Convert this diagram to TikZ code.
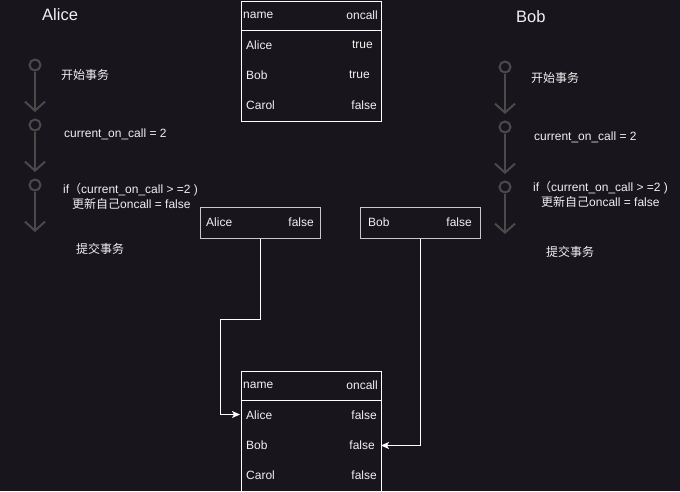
\documentclass[tikz,border=0pt]{standalone}
\usepackage{fontspec}
\setmainfont{Liberation Sans}
\newfontfamily\cjk{Noto Sans CJK SC}
\usetikzlibrary{arrows.meta}
\definecolor{bg}{HTML}{18151D}
\definecolor{tl}{HTML}{4A4A4A}
\definecolor{fg}{HTML}{F0F0F0}
\definecolor{boxline}{HTML}{C8C8C8}
\tikzset{
  txt/.style={text=fg, font=\fontsize{12}{14}\selectfont, inner sep=0pt},
  title/.style={text=fg, font=\fontsize{16.5}{19}\selectfont, inner sep=0pt},
  circ/.style={circle, draw=tl, line width=2pt, minimum size=11pt, inner sep=0pt},
  tlarrow/.style={draw=tl, line width=2pt, -{Straight Barb[length=9pt,width=20pt,line width=2pt]}},
  tablebox/.style={draw=white, line width=1pt, minimum width=140pt, minimum height=120pt, inner sep=0pt, anchor=north west},
  smallbox/.style={draw=boxline, line width=1.2pt, minimum width=120pt, minimum height=31pt, inner sep=0pt, anchor=north west},
  conn/.style={draw=white, line width=1pt, -{Stealth[length=8pt,width=7pt,inset=2pt]}}
}
\begin{document}
\begin{tikzpicture}[x=1pt,y=-1pt]
\fill[bg] (0,0) rectangle (680,491);
\useasboundingbox (0,0) rectangle (680,491);

% titles
\node[title, anchor=west] (alice) at (42,15) {Alice};
\node[title, anchor=west] (bob) at (516,17) {Bob};

% Alice timeline
\node[circ] (a1) at (35,65) {};
\node[circ] (a2) at (35,125) {};
\node[circ] (a3) at (35,185) {};
\coordinate (a1e) at (35,112);
\coordinate (a2e) at (35,172);
\coordinate (a3e) at (35,232);
\draw[tlarrow] (a1) -- (a1e);
\draw[tlarrow] (a2) -- (a2e);
\draw[tlarrow] (a3) -- (a3e);
\node[txt, anchor=west] (at1) at (61,75) {\cjk 开始事务};
\node[txt, anchor=west] (at2) at (64,134) {current\_on\_call = 2};
\node[txt, anchor=west] (at3) at (63,190) {if{\cjk （}current\_on\_call > =2 )};
\node[txt, anchor=west] (at4) at (72,204) {{\cjk 更新自己}oncall = false};
\node[txt, anchor=west] (at5) at (76,249) {\cjk 提交事务};

% Bob timeline
\node[circ] (b1) at (505,67) {};
\node[circ] (b2) at (505,127) {};
\node[circ] (b3) at (505,187) {};
\coordinate (b1e) at (505,114);
\coordinate (b2e) at (505,174);
\coordinate (b3e) at (505,234);
\draw[tlarrow] (b1) -- (b1e);
\draw[tlarrow] (b2) -- (b2e);
\draw[tlarrow] (b3) -- (b3e);
\node[txt, anchor=west] (bt1) at (531,78) {\cjk 开始事务};
\node[txt, anchor=west] (bt2) at (534,137) {current\_on\_call = 2};
\node[txt, anchor=west] (bt3) at (533,188) {if{\cjk （}current\_on\_call > =2 )};
\node[txt, anchor=west] (bt4) at (541,202) {{\cjk 更新自己}oncall = false};
\node[txt, anchor=west] (bt5) at (546,252) {\cjk 提交事务};

% top table
\node[tablebox] (t1) at (240.5,0.5) {};
\draw[white, line width=1pt] (240.5,30) -- (380.5,30);
\node[txt, anchor=west] (t1h1) at (243,15) {name};
\node[txt, anchor=east] (t1h2) at (378,15) {oncall};
\node[txt, anchor=west] (t1r1a) at (246,45) {Alice};
\node[txt, anchor=east] (t1r1b) at (373,45) {true};
\node[txt, anchor=west] (t1r2a) at (246,75) {Bob};
\node[txt, anchor=east] (t1r2b) at (370,75) {true};
\node[txt, anchor=west] (t1r3a) at (246,105) {Carol};
\node[txt, anchor=east] (t1r3b) at (377,105) {false};

% update boxes
\node[smallbox] (af) at (200,207) {};
\node[txt, anchor=west] (afa) at (206,222.5) {Alice};
\node[txt, anchor=east] (afb) at (314,222.5) {false};
\node[smallbox] (bf) at (360,207) {};
\node[txt, anchor=west] (bfa) at (368,222.5) {Bob};
\node[txt, anchor=east] (bfb) at (472,222.5) {false};

% bottom table
\node[tablebox] (t2) at (240.5,370.5) {};
\draw[white, line width=1pt] (240.5,400) -- (380.5,400);
\node[txt, anchor=west] (t2h1) at (243,385) {name};
\node[txt, anchor=east] (t2h2) at (378,385) {oncall};
\node[txt, anchor=west] (t2r1a) at (246,415) {Alice};
\node[txt, anchor=east] (t2r1b) at (377,415) {false};
\node[txt, anchor=west] (t2r2a) at (246,445) {Bob};
\node[txt, anchor=east] (t2r2b) at (375,445) {false};
\node[txt, anchor=west] (t2r3a) at (246,475) {Carol};
\node[txt, anchor=east] (t2r3b) at (377,475) {false};

% connectors
\coordinate (k1) at (220.5,319.5);
\coordinate (inA) at (240,414.5);
\coordinate (inB) at (381,445.5);
\draw[conn] (af.south) |- (k1) |- (inA);
\draw[conn] (bf.south) |- (inB);
\end{tikzpicture}
\end{document}
